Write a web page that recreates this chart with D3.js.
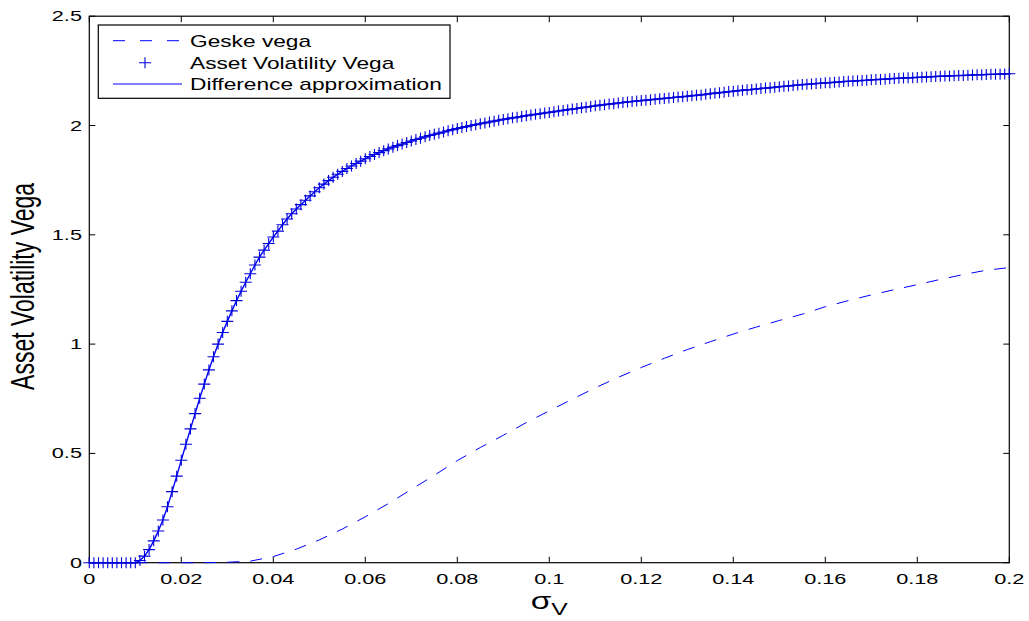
<!DOCTYPE html>
<html>
<head>
<meta charset="utf-8">
<script src="https://cdn.jsdelivr.net/npm/d3@7"></script>
<style>
  body { margin: 0; background: #fff; }
  text { font-family: "Liberation Sans", Arial, sans-serif; fill: #000; }
</style>
</head>
<body>
<div id="chart"></div>
<script>
// asset volatility vega, one value per 0.001 of sigma_V (0 .. 0.2)
var assetVega = [
  0,0,0,0,0,0,0,0,0,0,0,
  0.01,0.03,0.06,0.10,0.145,0.195,0.256,0.325,0.396,0.469,
  0.542,0.612,0.682,0.752,0.817,0.882,0.942,1.000,1.053,1.104,
  1.152,1.199,1.242,1.283,1.322,1.362,1.398,
  1.43,1.46,1.49,1.517,1.546,1.572,1.596,1.618,1.638,1.658,
  1.678,1.697,1.715,1.732,1.748,1.763,1.777,1.79,1.803,1.815,
  1.826,1.837,1.848,1.858,1.867,1.876,1.885,1.893,1.901,1.908,
  1.915,1.922,1.929,1.936,1.942,1.948,1.954,1.96,1.965,1.97,
  1.976,1.981,1.986,1.991,1.995,2.0,2.004,2.008,2.012,2.016,
  2.02,2.024,2.028,2.031,2.035,2.038,2.041,2.045,2.048,2.051,
  2.054,2.057,2.06,
  2.063,2.066,2.069,2.072,2.075,2.078,2.081,2.084,2.087,2.09,2.093,
  2.095,2.098,2.1,2.103,2.105,2.108,2.11,2.112,2.114,2.116,2.118,
  2.12,2.122,2.124,2.126,2.128,2.13,2.132,2.134,2.136,2.138,2.14,
  2.143,2.145,2.148,2.150,2.152,2.155,2.157,2.159,2.161,2.163,2.165,
  2.167,2.169,2.171,2.173,2.175,2.177,2.179,2.181,2.183,2.185,2.187,
  2.189,2.19,2.192,2.193,2.195,2.196,2.198,2.199,2.201,2.202,2.203,
  2.205,2.206,2.207,2.209,2.21,2.211,2.212,2.214,2.215,2.216,2.217,
  2.218,2.219,2.22,2.221,2.222,2.223,2.224,2.225,2.226,2.227,2.228,
  2.229,2.229,2.23,2.231,2.232,2.232,2.233,2.234,2.234,2.235,2.236,2.237
];
var assetSigma = assetVega.map((d, i) => i / 1000);

// geske vega, one value per 0.005
var geskeVega = [
  0,0,0,0,0,0,0.002,0.007,0.028,0.062,
  0.104,0.154,0.21,0.27,0.335,0.4,0.467,0.527,0.583,0.641,
  0.695,0.748,0.8,0.848,0.893,0.935,0.975,1.011,1.046,1.078,
  1.108,1.137,1.171,1.199,1.225,1.249,1.272,1.296,1.318,1.338,1.35
];
var geskeSigma = geskeVega.map((d, i) => i * 5 / 1000);

var xTicks = [0, 0.02, 0.04, 0.06, 0.08, 0.1, 0.12, 0.14, 0.16, 0.18, 0.2];
var yTicks = [0, 0.5, 1, 1.5, 2, 2.5];
var legendNames = ["Geske vega", "Asset Volatility Vega", "Difference approximation"];

const width = 1029, height = 621;
const pLeft = 89.3, pRight = 1009.3, pTop = 16.2, pBottom = 562.7;
const sx = 1.45; // glyphs in the picture are stretched sideways

const svg = d3.select("#chart").append("svg")
    .attr("width", width)
    .attr("height", height);

var x = d3.scaleLinear().domain([0, 0.2]).range([pLeft, pRight]);
var y = d3.scaleLinear().domain([0, 2.5]).range([pBottom, pTop]);

// frame
svg.append("rect")
    .attr("x", pLeft).attr("y", pTop)
    .attr("width", pRight - pLeft).attr("height", pBottom - pTop)
    .attr("fill", "none").attr("stroke", "#000").attr("stroke-width", 1.2);

// ticks inside, on all four sides
xTicks.forEach(t => {
    svg.append("line").attr("x1", x(t)).attr("x2", x(t)).attr("y1", pBottom).attr("y2", pBottom - 6).attr("stroke", "#000");
    svg.append("line").attr("x1", x(t)).attr("x2", x(t)).attr("y1", pTop).attr("y2", pTop + 6).attr("stroke", "#000");
    svg.append("text")
        .attr("transform", `translate(${x(t)},584) scale(${sx},1)`)
        .attr("text-anchor", "middle")
        .style("font-size", "15px")
        .text(t);
});
yTicks.forEach(t => {
    svg.append("line").attr("x1", pLeft).attr("x2", pLeft + 6).attr("y1", y(t)).attr("y2", y(t)).attr("stroke", "#000");
    svg.append("line").attr("x1", pRight).attr("x2", pRight - 6).attr("y1", y(t)).attr("y2", y(t)).attr("stroke", "#000");
    svg.append("text")
        .attr("transform", `translate(82,${y(t) + 5}) scale(${sx},1)`)
        .attr("text-anchor", "end")
        .style("font-size", "15px")
        .text(t);
});

// axis labels
svg.append("text")
    .attr("transform", `translate(34,${(pTop + pBottom) / 2 - 3}) rotate(-90) scale(1,${sx})`)
    .attr("text-anchor", "middle")
    .style("font-size", "23px")
    .text("Asset Volatility Vega");

var xl = svg.append("text")
    .attr("transform", `translate(${(pLeft + pRight) / 2},609) scale(${sx},1)`)
    .attr("text-anchor", "middle")
    .style("font-size", "23px");
xl.append("tspan").text("σ");
xl.append("tspan").attr("dy", 6).style("font-size", "17px").text("V");

var line = d3.line().x(d => x(d[0])).y(d => y(d[1]));

var g = svg.append("g");

// geske vega, dashed
g.append("path")
    .datum(geskeSigma.map((s, i) => [s, geskeVega[i]]))
    .attr("d", line)
    .attr("fill", "none")
    .attr("stroke", "#0000ff")
    .attr("stroke-width", 1)
    .attr("stroke-dasharray", "12,11");

// difference approximation, solid
g.append("path")
    .datum(assetSigma.map((s, i) => [s, assetVega[i]]))
    .attr("d", line)
    .attr("fill", "none")
    .attr("stroke", "#0000ff")
    .attr("stroke-width", 1.4);

// asset volatility vega, plus markers
const plus = "M-6,0H6M0,-5.5V5.5";
g.selectAll("path.mark")
    .data(assetSigma.map((s, i) => [s, assetVega[i]]))
    .join("path")
    .attr("class", "mark")
    .attr("d", plus)
    .attr("transform", d => `translate(${x(d[0])},${y(d[1])})`)
    .attr("fill", "none")
    .attr("stroke", "#0000dd")
    .attr("stroke-width", 1.1);

// legend
const lg = svg.append("g");
lg.append("rect")
    .attr("x", 98.3).attr("y", 25)
    .attr("width", 450 - 98.3).attr("height", 98.3 - 25)
    .attr("fill", "#fff").attr("stroke", "#000").attr("stroke-width", 1.2);
var rowY = [40.7, 62.7, 84];
lg.append("line").attr("x1", 113).attr("x2", 182).attr("y1", rowY[0]).attr("y2", rowY[0])
    .attr("stroke", "#0000ff").attr("stroke-dasharray", "12,15").attr("stroke-width", 1);
lg.append("path").attr("d", plus).attr("transform", `translate(145,${rowY[1]})`)
    .attr("fill", "none").attr("stroke", "#0000dd").attr("stroke-width", 1.1);
lg.append("line").attr("x1", 113).attr("x2", 182).attr("y1", rowY[2]).attr("y2", rowY[2])
    .attr("stroke", "#0000ff").attr("stroke-width", 1.2);
legendNames.forEach((n, i) => {
    lg.append("text")
        .attr("transform", `translate(190,${rowY[i] + 6}) scale(1.42,1)`)
        .style("font-size", "16px")
        .text(n);
});
</script>
</body>
</html>
